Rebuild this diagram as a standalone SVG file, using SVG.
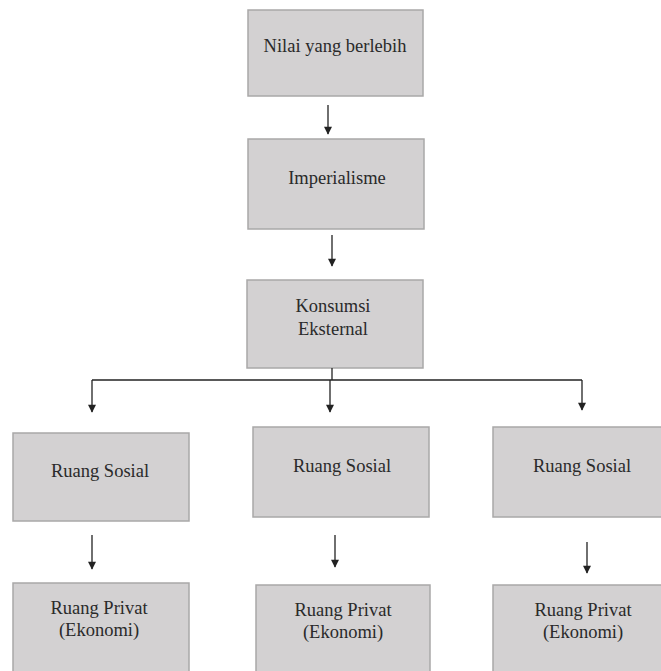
<svg xmlns="http://www.w3.org/2000/svg" width="661" height="671" viewBox="0 0 661 671">
<style>
.box{fill:#d3d1d2;stroke:#a9a8a8;stroke-width:1.5}
.c{stroke:#222;stroke-width:1.3;fill:none}
</style>
<defs>
<marker id="ah" viewBox="0 0 10 10" refX="9" refY="5" markerWidth="9" markerHeight="8" markerUnits="userSpaceOnUse" orient="auto">
<path d="M0,0 L10,5 L0,10 z" fill="#222"/>
</marker>
</defs>
<g id="n1"><rect class="box" x="248" y="10" width="175" height="86"/><text font-family="Liberation Serif" font-size="18.5" fill="#2a2a2a" text-anchor="middle" x="335" y="52">Nilai yang berlebih</text></g>
<g id="n2"><rect class="box" x="248" y="139" width="176" height="90"/><text font-family="Liberation Serif" font-size="18.5" fill="#2a2a2a" text-anchor="middle" x="337" y="184">Imperialisme</text></g>
<g id="n3"><rect class="box" x="247" y="280" width="176" height="88"/><text font-family="Liberation Serif" font-size="18.5" fill="#2a2a2a" text-anchor="middle" x="333" y="312">Konsumsi</text><text font-family="Liberation Serif" font-size="18.5" fill="#2a2a2a" text-anchor="middle" x="333" y="335">Eksternal</text></g>
<g id="n4"><rect class="box" x="13" y="433" width="176" height="88"/><text font-family="Liberation Serif" font-size="18.5" fill="#2a2a2a" text-anchor="middle" x="100" y="477">Ruang Sosial</text></g>
<g id="n5"><rect class="box" x="253" y="427" width="176" height="90"/><text font-family="Liberation Serif" font-size="18.5" fill="#2a2a2a" text-anchor="middle" x="342" y="472">Ruang Sosial</text></g>
<g id="n6"><rect class="box" x="493" y="427" width="170" height="90"/><text font-family="Liberation Serif" font-size="18.5" fill="#2a2a2a" text-anchor="middle" x="582" y="472">Ruang Sosial</text></g>
<g id="n7"><rect class="box" x="13" y="583" width="176" height="92"/><text font-family="Liberation Serif" font-size="18.5" fill="#2a2a2a" text-anchor="middle" x="99" y="614">Ruang Privat</text><text font-family="Liberation Serif" font-size="18.5" fill="#2a2a2a" text-anchor="middle" x="99" y="636">(Ekonomi)</text></g>
<g id="n8"><rect class="box" x="256" y="585" width="174" height="90"/><text font-family="Liberation Serif" font-size="18.5" fill="#2a2a2a" text-anchor="middle" x="343" y="616">Ruang Privat</text><text font-family="Liberation Serif" font-size="18.5" fill="#2a2a2a" text-anchor="middle" x="343" y="638">(Ekonomi)</text></g>
<g id="n9"><rect class="box" x="493" y="585" width="170" height="90"/><text font-family="Liberation Serif" font-size="18.5" fill="#2a2a2a" text-anchor="middle" x="583" y="616">Ruang Privat</text><text font-family="Liberation Serif" font-size="18.5" fill="#2a2a2a" text-anchor="middle" x="583" y="638">(Ekonomi)</text></g>
<g id="connectors">
<line class="c" x1="328" y1="105" x2="328" y2="134" marker-end="url(#ah)"/>
<line class="c" x1="332" y1="235" x2="332" y2="266" marker-end="url(#ah)"/>
<line class="c" x1="332" y1="368" x2="332" y2="380"/>
<line class="c" x1="92" y1="380" x2="582" y2="380"/>
<line class="c" x1="92" y1="380" x2="92" y2="412" marker-end="url(#ah)"/>
<line class="c" x1="330" y1="380" x2="330" y2="412" marker-end="url(#ah)"/>
<line class="c" x1="582" y1="380" x2="582" y2="410" marker-end="url(#ah)"/>
<line class="c" x1="92" y1="535" x2="92" y2="569" marker-end="url(#ah)"/>
<line class="c" x1="335" y1="535" x2="335" y2="567" marker-end="url(#ah)"/>
<line class="c" x1="587" y1="542" x2="587" y2="573" marker-end="url(#ah)"/>
</g>
</svg>
